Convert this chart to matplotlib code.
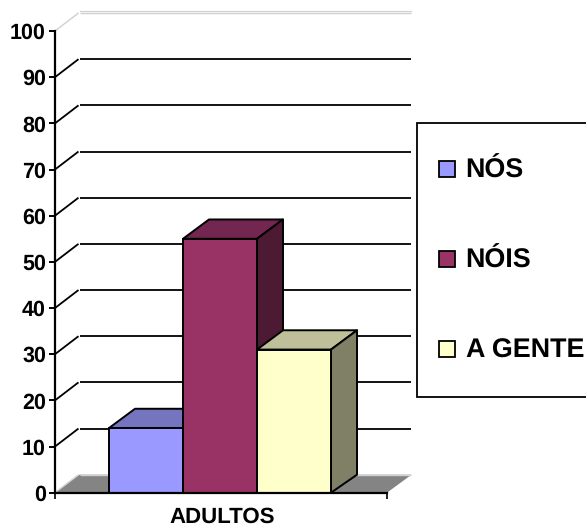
import matplotlib
matplotlib.use("Agg")
import matplotlib.pyplot as plt
from matplotlib.patches import Polygon, Rectangle

plt.rcParams['font.family'] = ['Liberation Sans', 'DejaVu Sans']
plt.rcParams['text.hinting'] = 'no_hinting'

categories = ["ADULTOS"]
series_names = ["NÓS", "NÓIS", "A GENTE"]
series_values = [14, 55, 31]
y_ticks = list(range(0, 101, 10))

front_colors = ["#9999FF", "#993366", "#FFFFCC"]
top_colors = ["#7474BF", "#732650", "#BFBF99"]
side_colors = ["#4D4D80", "#4D1A33", "#808066"]

W, H = 586, 528
fig = plt.figure(figsize=(W / 100, H / 100), dpi=100, facecolor="white")

# Front plane of the pseudo-3D plot area, positioned in pixels
x0, x1, y0, y1 = 55, 387, 492.7, 31
ax = fig.add_axes([x0 / W, 1 - y0 / H, (x1 - x0) / W, (y0 - y1) / H])
ax.set_xlim(0, 1)
ax.set_ylim(0, 100)
ax.patch.set_visible(False)

px_per_unit = (y0 - y1) / 100
dx = 24.5 / (x1 - x0)
dy = 18 / px_per_unit
bar_dx = 26 / (x1 - x0)
bar_dy = 19.3 / px_per_unit

# Grey floor
ax.add_patch(Polygon([(0, 0), (1, 0), (1 + dx, dy), (dx, dy)], closed=True,
                     facecolor="#848484", edgecolor="none", zorder=1, clip_on=False))

# Gridlines on the back wall with the diagonals on the side wall
for v in y_ticks:
    if v == 0 or v == 100:
        color, lw = "#D0D0D0", 1.0
    else:
        color, lw = "black", 1.3
    ax.plot([dx + 0.003, 1 + dx], [v + dy, v + dy], color=color, lw=lw, zorder=1.5,
            clip_on=False, solid_capstyle="butt")
    ax.plot([0, dx - 0.003], [v, v + dy], color=color, lw=lw, zorder=1.5,
            clip_on=False, solid_capstyle="butt")
ax.plot([dx, 1 + dx], [100 + dy + 0.35, 100 + dy + 0.35], color="#D0D0D0", lw=0.8,
        zorder=1.5, clip_on=False)

# Bars: front faces from the library's bar call, then top and side faces
bar_w = 74 / (x1 - x0)
start = (109 - x0) / (x1 - x0)
for i, (val, fc, tc, sc) in enumerate(zip(series_values, front_colors, top_colors, side_colors)):
    left = start + i * bar_w
    right = left + bar_w
    z = 3 + i
    ax.add_patch(Polygon([(left, val), (right, val), (right + bar_dx, val + bar_dy),
                          (left + bar_dx, val + bar_dy)],
                         closed=True, facecolor=tc, edgecolor="black", lw=1.4, zorder=z,
                         clip_on=False, joinstyle="round"))
    ax.add_patch(Polygon([(right, 0), (right + bar_dx, dy), (right + bar_dx, val + bar_dy), (right, val)],
                         closed=True, facecolor=sc, edgecolor="black", lw=1.4, zorder=z,
                         clip_on=False, joinstyle="round"))
    ax.bar(left, val, width=bar_w, align="edge", color=fc, edgecolor="black", lw=1.4,
           zorder=z + 0.5, clip_on=False)

# Axes
for s in ("top", "right"):
    ax.spines[s].set_visible(False)
for s in ("left", "bottom"):
    ax.spines[s].set_linewidth(1.6)
    ax.spines[s].set_zorder(8)
ax.set_yticks(y_ticks)
ax.set_yticklabels([str(v) for v in y_ticks], fontsize=15.5, fontweight="bold")
ax.set_xticks([0, 1])
ax.set_xticklabels(["", ""])
ax.tick_params(axis="y", length=4.5, width=1.4, pad=2)
ax.tick_params(axis="x", length=4, width=1.2)

# Category label sits close to the lower edge of the figure
fig.text(222 / W, 1 - 523 / H, categories[0], ha="center", va="baseline",
         fontsize=16, fontweight="bold")

# Legend box, running off the right edge
fig.add_artist(Rectangle((416.5 / W, 1 - 396.5 / H), 200 / W, 273.5 / H, transform=fig.transFigure,
                         facecolor="white", edgecolor="black", lw=1.3, zorder=10))
legend_y = [169, 258.5, 349]
for name, fc, ly in zip(series_names, front_colors, legend_y):
    fig.add_artist(Rectangle((439 / W, 1 - (ly + 8) / H), 16 / W, 16 / H, transform=fig.transFigure,
                             facecolor=fc, edgecolor="black", lw=1.3, zorder=11))
    fig.text(465.5 / W, 1 - (ly - 0.8) / H, name, ha="left", va="center_baseline", fontsize=19.4,
             fontweight="bold", zorder=11)

fig.savefig("out.png", dpi=100, facecolor="white")
